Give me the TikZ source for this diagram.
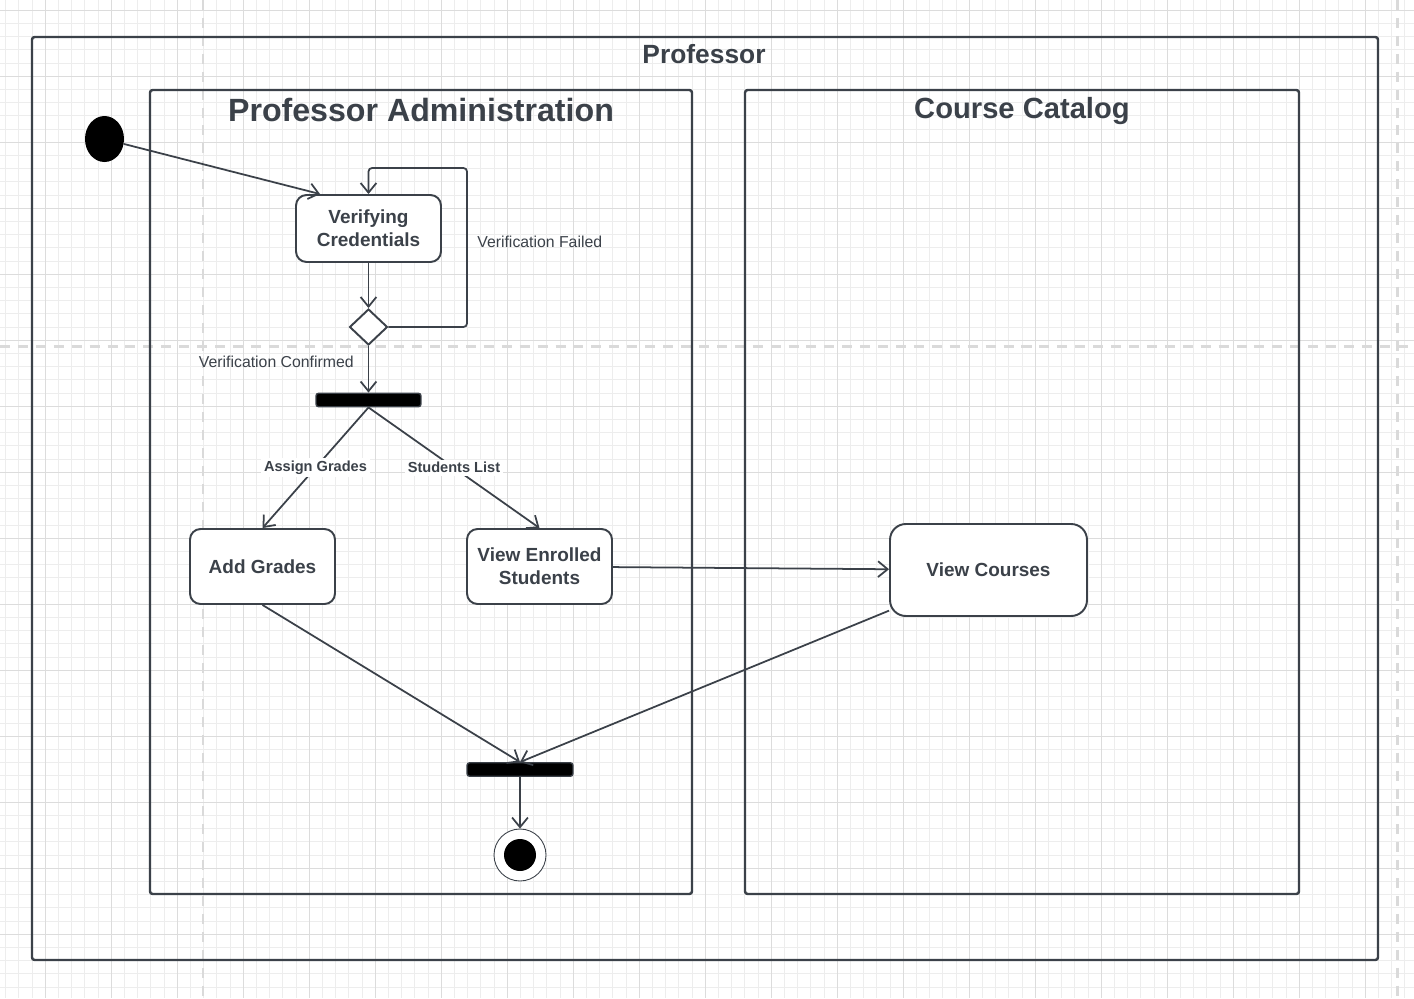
\documentclass[tikz,border=0pt]{standalone}
\usepackage{fontspec}
\setmainfont{Liberation Sans}
\usetikzlibrary{shapes.geometric,arrows.meta}
\definecolor{ink}{HTML}{3B4149}
\definecolor{gridminor}{HTML}{EDEDED}
\definecolor{gridmajor}{HTML}{DCDCDC}
\definecolor{pagebreak}{HTML}{DADADA}

\begin{document}
\begin{tikzpicture}[x=0.02cm,y=-0.02cm,
	lane/.style={draw=ink,line width=1.4pt,rounded corners=1.5pt},
	activity/.style={draw=ink,fill=white,line width=1.1pt,rounded corners=6pt,align=center,text=ink,font=\bfseries\fontsize{10.8}{13}\selectfont},
	bar/.style={draw=ink,fill=black,line width=0.8pt,rounded corners=1.5pt,minimum width=2.1cm,minimum height=0.27cm,inner sep=0pt},
	arr/.style={draw=ink,line width=1pt,-{Straight Barb[length=5.5pt,width=9pt]}},
	guard/.style={text=ink,font=\bfseries\fontsize{8.3}{10}\selectfont,fill=white,inner sep=1.5pt},
	note/.style={text=ink,font=\fontsize{9}{11}\selectfont,inner sep=0pt},
	title/.style={text=ink,font=\bfseries\fontsize{#1}{#1}\selectfont,inner sep=0pt}]
\useasboundingbox (0,0) rectangle (1414,998);
\fill[white] (0,0) rectangle (1414,998);
\foreach \i in {0,...,106} \draw[gridminor,line width=0.5pt] ({5.7+13.2*\i},0) -- ({5.7+13.2*\i},998);
\foreach \i in {0,...,74} \draw[gridminor,line width=0.5pt] (0,{10.3+13.2*\i}) -- (1414,{10.3+13.2*\i});
\foreach \i in {0,...,20} \draw[gridmajor,line width=0.5pt] ({45.3+66*\i},0) -- ({45.3+66*\i},998);
\foreach \i in {0,...,14} \draw[gridmajor,line width=0.5pt] (0,{10.3+66*\i}) -- (1414,{10.3+66*\i});
\draw[pagebreak,line width=1.7pt,dash pattern=on 5.7pt off 4.5pt] (203,0) -- (203,998);
\draw[pagebreak,line width=1.7pt,dash pattern=on 5.7pt off 4.5pt] (1397,0) -- (1397,998);
\draw[pagebreak,line width=1.7pt,dash pattern=on 5.7pt off 4.5pt] (0,346) -- (1414,346);

\draw[lane] (32,37) rectangle (1378,960);
\draw[lane] (150,90) rectangle (692,894);
\draw[lane] (745,90) rectangle (1299,894);
\node[title=15] (proflbl) at (704,54) {Professor};
\node[title=18.3] (adminlbl) at (421,110) {Professor Administration};
\node[title=16.6] (cataloglbl) at (1022,111) {Course Catalog};

\node[ellipse,fill=black,minimum width=0.78cm,minimum height=0.92cm,inner sep=0pt] (start) at (104.5,139) {};
\node[activity,minimum width=2.9cm,minimum height=1.34cm] (verify) at (368.5,228.5) {Verifying\\Credentials};
\node[diamond,draw=ink,fill=white,line width=1.1pt,minimum width=0.76cm,minimum height=0.72cm,inner sep=0pt] (check) at (368.5,327) {};
\node[bar] (fork) at (368.5,400) {};
\node[activity,minimum width=2.9cm,minimum height=1.5cm] (grades) at (262.5,566.5) {Add Grades};
\node[activity,minimum width=2.9cm,minimum height=1.5cm] (enrolled) at (539.5,566.5) {View Enrolled\\Students};
\node[activity,minimum width=3.94cm,minimum height=1.84cm,rounded corners=9pt] (courses) at (988.5,570) {View Courses};
\node[bar,minimum width=2.12cm] (join) at (520,769.5) {};
\node[circle,draw=ink,fill=white,line width=0.5pt,minimum size=1.04cm,inner sep=0pt] (final) at (520,855) {};
\node[circle,fill=black,minimum size=0.64cm,inner sep=0pt] (finaldot) at (final) {};
\coordinate (loop) at (467,168);

\draw[arr] (start) -- ([xshift=0.5cm]verify.north west);
\draw[arr] (verify) -- (check);
\draw[arr,rounded corners=2pt] (check.east) -| (loop) -| (verify.north);
\node[note,anchor=west] (failed) at (477,242) {Verification Failed};
\draw[arr] (check) -- (fork);
\node[note,anchor=east] (confirmed) at (354,362) {Verification Confirmed};
\draw[arr] (fork.south) -- node[guard] {Assign Grades} (grades.north);
\draw[arr] (fork.south) -- node[guard] {Students List} (enrolled.north);
\draw[arr] (enrolled) -- (courses);
\draw[arr] (grades.south) -- (join.north);
\draw[arr] (courses) -- (join.north);
\draw[arr] (join) -- (final);
\end{tikzpicture}
\end{document}
